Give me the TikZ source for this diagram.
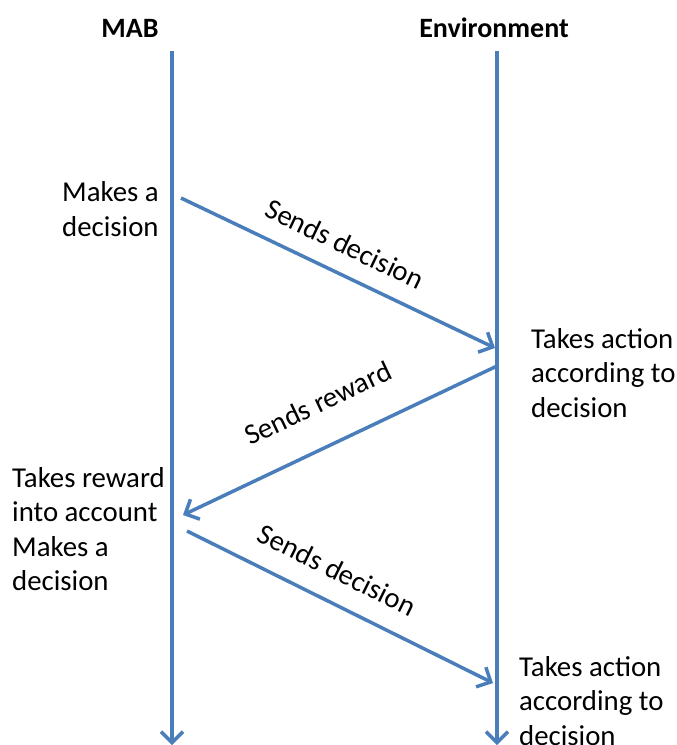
\documentclass[tikz,border=0pt]{standalone}
\usepackage{fontspec}
\setmainfont{Carlito}
\usetikzlibrary{arrows.meta}
\definecolor{lineblue}{HTML}{4A7EBB}
\tikzset{
  lifeline/.style={draw=lineblue, line width=4pt, -{Straight Barb[length=11pt,width=22pt,line width=3.5pt]}},
  msg/.style={draw=lineblue, line width=3.5pt, -{Straight Barb[length=11pt,width=22pt,line width=3.5pt]}},
  head/.style={font=\fontsize{28}{33}\selectfont\bfseries, inner sep=0pt},
  txt/.style={font=\fontsize{28.8}{34.5}\selectfont, align=left, inner sep=0pt, anchor=west},
  lbl/.style={font=\fontsize{28.8}{34.5}\selectfont, inner sep=0pt}
}
\begin{document}
\begin{tikzpicture}[x=1pt,y=-1pt]
\useasboundingbox (0,0) rectangle (677,745);
\node[head] (mab) at (130,28) {MAB};
\node[head] (env) at (494,28) {Environment};
\coordinate (ltop) at (172,51);
\coordinate (lbot) at (172,745);
\coordinate (rtop) at (497,51);
\coordinate (rbot) at (497,745);
\draw[lifeline] (ltop) -- (lbot);
\draw[lifeline] (rtop) -- (rbot);
\node[txt] (t1) at (62,209) {Makes a\\decision};
\node[txt] (t2) at (531,373) {Takes action\\according to\\decision};
\node[txt] (t3) at (12,529) {Takes reward\\into account\\Makes a\\decision};
\node[txt] (t4) at (519,701) {Takes action\\according to\\decision};
\coordinate (a1s) at (181,198);
\coordinate (a1e) at (495,348);
\coordinate (a2s) at (497,366);
\coordinate (a2e) at (183,515);
\coordinate (a3s) at (187,531);
\coordinate (a3e) at (493,683);
\draw[msg] (a1s) -- (a1e);
\draw[msg] (a2s) -- (a2e);
\draw[msg] (a3s) -- (a3e);
\node[lbl, rotate=-25.5] (l1) at (345,244) {Sends decision};
\node[lbl, rotate=25.4] (l2) at (318,403) {Sends reward};
\node[lbl, rotate=-26.4] (l3) at (337,570) {Sends decision};
\end{tikzpicture}
\end{document}
